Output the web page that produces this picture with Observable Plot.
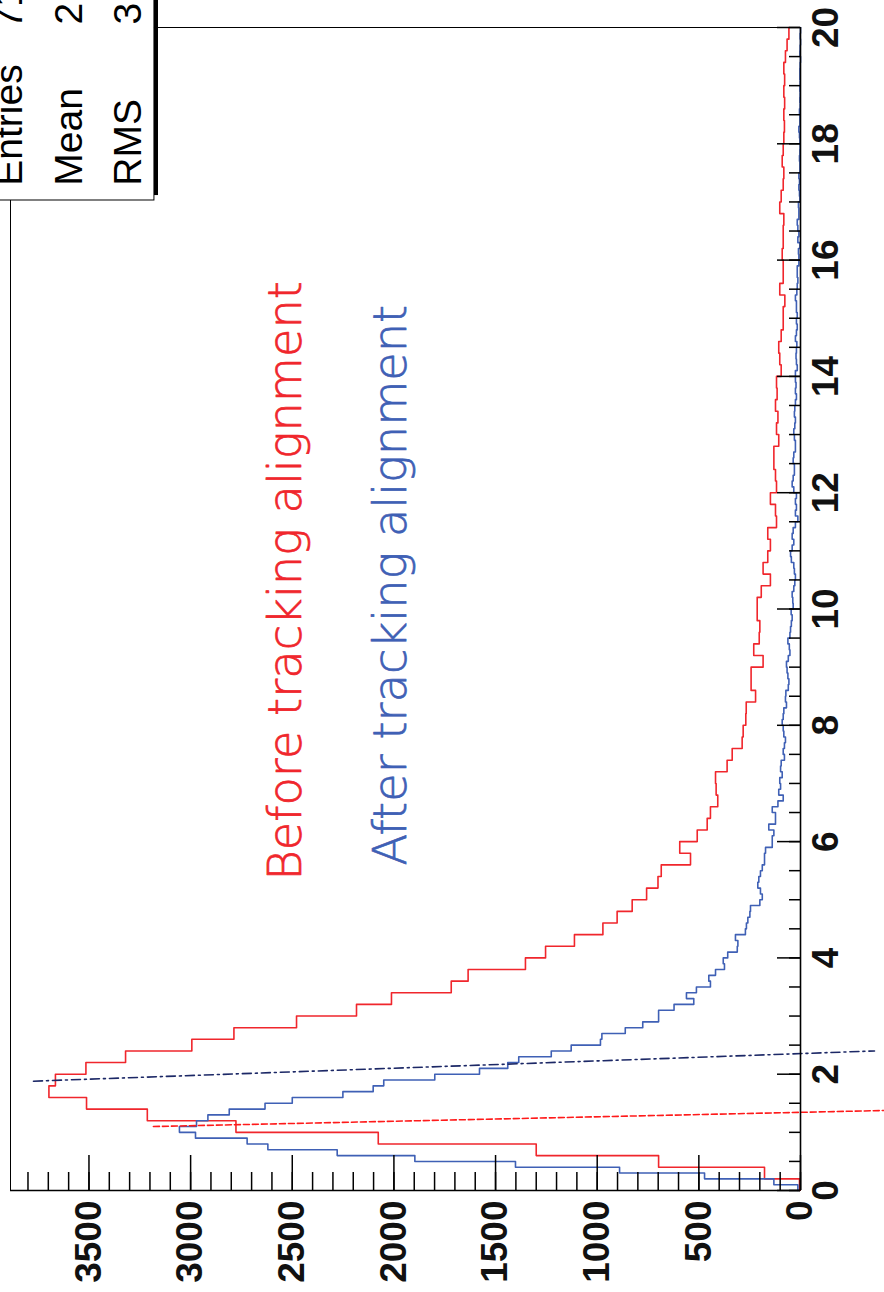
<!DOCTYPE html>
<html>
<head>
<meta charset="utf-8">
<script src="https://cdn.jsdelivr.net/npm/d3@7"></script>
<script src="https://cdn.jsdelivr.net/npm/@observablehq/plot@0.6"></script>
<style>
  html, body { margin: 0; padding: 0; background: #fff; }
  #chart svg { display: block; }
</style>
</head>
<body>
<div id="chart"></div>
<script>
// ---- Data ----
const redBinWidth = 0.2;   // "Before tracking alignment", 100 bins on [0,20]
const redCounts = [
  5, 177, 698, 1300, 2077, 2777, 3213, 3512, 3697, 3665,
  3515, 3320, 2994, 2787, 2479, 2184, 2012, 1718, 1635, 1353,
  1254, 1112, 972, 902, 828, 757, 701, 685, 541, 594,
  508, 459, 443, 407, 415, 418, 361, 336, 287, 282,
  269, 267, 221, 243, 243, 184, 230, 203, 200, 213,
  213, 193, 148, 184, 161, 148, 161, 118, 123, 148,
  118, 123, 131, 131, 107, 118, 111, 123, 115, 118,
  95, 102, 107, 95, 85, 85, 77, 102, 85, 85,
  90, 85, 85, 82, 102, 95, 85, 82, 90, 85,
  82, 79, 82, 78, 82, 78, 82, 74, 66, 57
];
const blueBinWidth = 0.1;  // "After tracking alignment", 200 bins on [0,20]
const blueCounts = [
  13, 131, 472, 890, 1402, 1897, 2279, 2620, 2722, 2976,
  3055, 2971, 2915, 2810, 2634, 2500, 2251, 2102, 2050, 1799,
  1579, 1440, 1386, 1226, 1128, 984, 977, 862, 776, 698,
  698, 622, 525, 561, 512, 443, 451, 418, 374, 380,
  358, 311, 308, 320, 271, 266, 259, 249, 246, 200,
  188, 197, 210, 205, 197, 188, 177, 177, 172, 139,
  139, 131, 156, 123, 123, 139, 111, 85, 107, 98,
  102, 90, 98, 95, 79, 85, 79, 74, 82, 85,
  90, 85, 82, 69, 74, 72, 60, 57, 62, 66,
  69, 60, 52, 55, 62, 52, 49, 45, 41, 46,
  36, 38, 41, 33, 28, 25, 30, 33, 45, 49,
  41, 33, 41, 36, 25, 13, 25, 20, 25, 20,
  33, 41, 36, 30, 30, 36, 33, 25, 25, 30,
  33, 28, 25, 30, 28, 25, 20, 25, 22, 25,
  25, 16, 20, 22, 20, 18, 25, 20, 16, 20,
  16, 20, 20, 25, 18, 16, 13, 16, 16, 8,
  8, 10, 3, 13, 8, 13, 16, 8, 8, 10,
  3, 5, 8, 5, 8, 3, 3, 5, 3, 2,
  3, 5, 8, 3, 3, 5, 2, 3, 2, 3,
  2, 3, 3, 2, 0, 3, 2, 0, 2, 0
];

const countMajorTicks = [0, 500, 1000, 1500, 2000, 2500, 3000, 3500];
const countMinorTicks = [0, 100, 200, 300, 400, 500, 600, 700, 800, 900, 1000, 1100, 1200, 1300, 1400, 1500,
  1600, 1700, 1800, 1900, 2000, 2100, 2200, 2300, 2400, 2500, 2600, 2700, 2800, 2900, 3000,
  3100, 3200, 3300, 3400, 3500, 3600, 3700, 3800];
const xMajorTicks = [0, 2, 4, 6, 8, 10, 12, 14, 16, 18, 20];
const xMinorTicks = [0, 0.5, 1, 1.5, 2, 2.5, 3, 3.5, 4, 4.5, 5, 5.5, 6, 6.5, 7, 7.5, 8, 8.5, 9, 9.5,
  10, 10.5, 11, 11.5, 12, 12.5, 13, 13.5, 14, 14.5, 15, 15.5, 16, 16.5, 17, 17.5, 18, 18.5, 19, 19.5, 20];

const statsLabels = ["Entries", "Mean", "RMS"];
const statsValues = ["71", "2", "3"];
const annotationTexts = ["Before tracking alignment", "After tracking alignment"];

// marker lines (count, x) end points
const redMarker = [{c: 3183, v: 1.10}, {c: -413, v: 1.376}];
const blueMarker = [{c: 3773, v: 1.88}, {c: -364, v: 2.40}];

// ---- Layout ----
const W = 884, H = 1292;
const mTop = 27, mBottom = 102, mLeft = 10, mRight = 84;
const frameW = W - mLeft - mRight, frameH = H - mTop - mBottom;
const countMax = 3886;

const RED = "#f0262c", BLUE = "#3f60b5", NAVY = "#1c2866";
const AXISFONT = "'Liberation Sans', Arial, Helvetica, sans-serif";
const LABELFONT = "'DejaVu Sans', sans-serif";

function steps(counts, w) {
  const pts = [];
  counts.forEach((c, i) => {
    pts.push({c, v: i * w});
    pts.push({c, v: (i + 1) * w});
  });
  return pts;
}

// stats box geometry (data units)
const box = {c1: 3178, c2: 4600, v1: 17.025, v2: 21};
const shadow = {c1: 3158, c2: 3178, v1: 17.11, v2: 21};

const chart = Plot.plot({
  width: W, height: H,
  marginTop: mTop, marginBottom: mBottom, marginLeft: mLeft, marginRight: mRight,
  x: {domain: [0, countMax], reverse: true, axis: null},
  y: {domain: [0, 20], axis: null},
  style: {background: "white"},
  marks: [
    Plot.frame({stroke: "black", strokeWidth: 1}),
    // histograms
    Plot.line(steps(redCounts, redBinWidth), {x: "c", y: "v", stroke: RED, strokeWidth: 1.6}),
    Plot.line(steps(blueCounts, blueBinWidth), {x: "c", y: "v", stroke: BLUE, strokeWidth: 1.6}),
    // marker lines
    Plot.line(redMarker, {x: "c", y: "v", stroke: "#ff1a1a", strokeWidth: 1.6, strokeDasharray: "6,3"}),
    Plot.line(blueMarker, {x: "c", y: "v", stroke: NAVY, strokeWidth: 1.6, strokeDasharray: "9,4,2,4"}),
    // stats box
    Plot.rect([shadow], {x1: "c1", x2: "c2", y1: "v1", y2: "v2", fill: "black"}),
    Plot.rect([box], {x1: "c1", x2: "c2", y1: "v1", y2: "v2", fill: "white", stroke: "black", strokeWidth: 1}),
    Plot.text(statsLabels, {
      x: (d, i) => [3827, 3532, 3246][i], y: () => 17.28, text: d => d,
      rotate: -90, textAnchor: "start", lineAnchor: "bottom",
      fontSize: 39, fontFamily: AXISFONT, fill: "black"
    }),
    Plot.text(statsValues, {
      x: (d, i) => [3827, 3532, 3246][i], y: (d, i) => [19.98, 20.05, 20.05][i], text: d => d,
      rotate: -90, textAnchor: "start", lineAnchor: "bottom",
      fontSize: 39, fontFamily: AXISFONT, fill: "black"
    }),
    // annotations
    Plot.text(annotationTexts, {
      x: (d, i) => [2459, 1943][i], y: (d, i) => [5.33, 5.59][i], text: d => d,
      rotate: -90, textAnchor: "start", lineAnchor: "bottom",
      fontSize: 46.3, fontWeight: 200, fontFamily: LABELFONT,
      fill: (d, i) => [RED, BLUE][i],
      stroke: (d, i) => [RED, BLUE][i], strokeWidth: 0.7
    }),
    // count axis (bottom of the picture)
    Plot.ruleY([0], {stroke: "black", strokeWidth: 1.6}),
    Plot.tickX(countMinorTicks, {x: d => d, stroke: "black", strokeWidth: 1.5, insetTop: frameH - 18}),
    Plot.tickX(countMajorTicks, {x: d => d, stroke: "black", strokeWidth: 1.5, insetTop: frameH - 35}),
    Plot.text(countMajorTicks, {
      x: d => d, frameAnchor: "bottom", dy: 10, text: d => String(d),
      rotate: -90, textAnchor: "end", lineAnchor: "middle",
      fontSize: 37, fontWeight: "bold", fontFamily: AXISFONT, fill: "#111"
    }),
    // x axis (right side of the picture)
    Plot.ruleX([0], {stroke: "black", strokeWidth: 1.6}),
    Plot.tickY(xMinorTicks, {y: d => d, stroke: "black", strokeWidth: 1.5, insetLeft: frameW - 11}),
    Plot.tickY(xMajorTicks, {y: d => d, stroke: "black", strokeWidth: 1.5, insetLeft: frameW - 23}),
    Plot.text(xMajorTicks, {
      y: d => d, frameAnchor: "right", dx: 37, text: d => String(d),
      rotate: -90, textAnchor: "middle", lineAnchor: "bottom",
      fontSize: 37, fontWeight: "bold", fontFamily: AXISFONT, fill: "#111"
    })
  ]
});
document.getElementById("chart").appendChild(chart);
</script>
</body>
</html>
